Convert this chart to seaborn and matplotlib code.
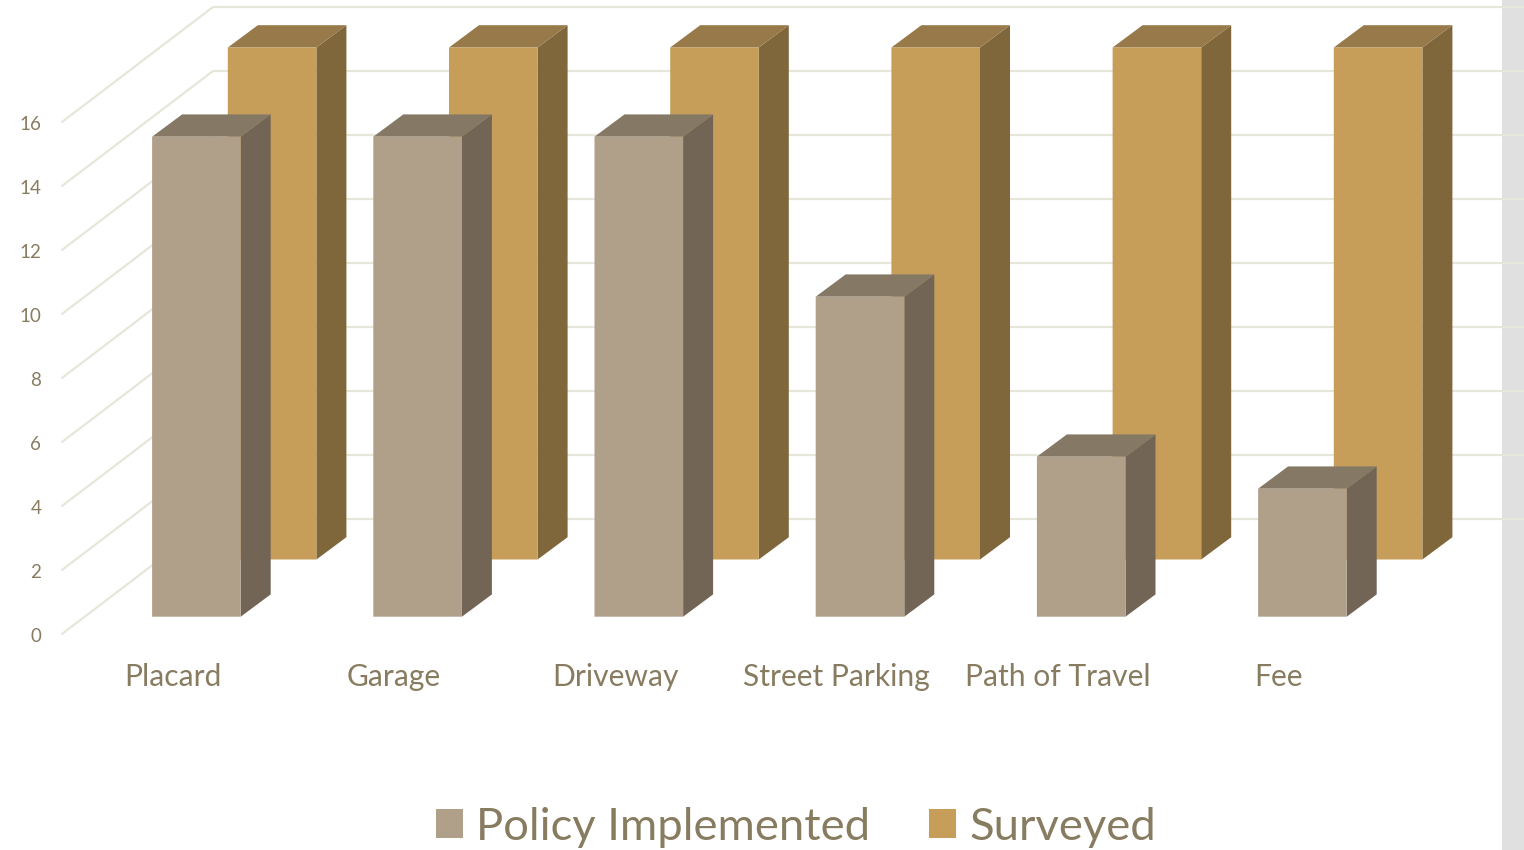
import matplotlib
matplotlib.use("Agg")
import matplotlib.pyplot as plt
from matplotlib.patches import Polygon, Rectangle, Patch
from matplotlib.transforms import Affine2D
import pandas as pd
import seaborn as sns

categories = ["Placard", "Garage", "Driveway", "Street Parking", "Path of Travel", "Fee"]
policy_implemented = [15, 15, 15, 10, 5, 4]
surveyed = [16, 16, 16, 16, 16, 16]
y_ticks = [0, 2, 4, 6, 8, 10, 12, 14, 16]

W, H = 1524, 850
PX_PER_UNIT = 32.0
BASE_Y = 616.7
STEP_X = 221.2
FIRST_X = 196.4
BAR_W = 88.6
TEXT = "#887C60"
GRID = "#E6E6DB"

sns.set_theme(style="white")
plt.rcParams["font.family"] = ["Lato", "DejaVu Sans"]

df = pd.DataFrame({
    "Category": categories * 2,
    "Series": ["Surveyed"] * 6 + ["Policy Implemented"] * 6,
    "Value": surveyed + policy_implemented,
})

fig = plt.figure(figsize=(W / 100, H / 100), dpi=100, facecolor="white")
ax = fig.add_axes([62 / W, (H - BASE_Y) / H, (W - 62) / W, BASE_Y / H])
ax.patch.set_visible(False)

colors = {
    "Policy Implemented": ("#B0A08A", "#726556", "#857966"),
    "Surveyed": ("#C69E5A", "#7F663B", "#97794A"),
}
sns.barplot(data=df, x="Category", y="Value", hue="Series", order=categories,
            hue_order=["Surveyed", "Policy Implemented"], dodge=False,
            palette={k: v[0] for k, v in colors.items()},
            width=BAR_W / STEP_X, saturation=1, legend=False, ax=ax)

px2x = lambda px: (px - FIRST_X) / STEP_X
ax.set_xlim(px2x(62), px2x(W))
ax.set_ylim(0, BASE_Y / PX_PER_UNIT)
ax.set_xlabel("")
ax.set_ylabel("")
sns.despine(ax=ax, left=True, bottom=True, top=True, right=True)

# walls of the 3D box
fig.add_artist(Rectangle((1502 / W, 0), 22 / W, 1, transform=fig.transFigure,
                         facecolor="#E0E0E0", edgecolor="none", zorder=-1))
wall_front = -17.3 / PX_PER_UNIT
wall_back = 97.7 / PX_PER_UNIT
for v in y_ticks:
    ax.plot([px2x(62), px2x(213), px2x(W)],
            [v + wall_front, v + wall_back, v + wall_back],
            color=GRID, lw=1.6, zorder=0.5, clip_on=False, solid_joinstyle="miter")

# extruded bars
DX = 30 / STEP_X
DY = 22.3 / PX_PER_UNIT
layers = [("Surveyed", ax.containers[0], Affine2D().translate(75.7, 57.2), 2),
          ("Policy Implemented", ax.containers[1], Affine2D(), 4)]
for name, container, shift, z in layers:
    front, side, top = colors[name]
    tr = ax.transData + shift
    for bar in container:
        x0, w, h = bar.get_x(), bar.get_width(), bar.get_height()
        x1 = x0 + w
        bar.set_transform(tr)
        bar.set_zorder(z + 1)
        bar.set_linewidth(0)
        bar.set_clip_on(False)
        bar.set_snap(False)
        ax.add_patch(Polygon([(x1, 0), (x1 + DX, DY), (x1 + DX, h + DY), (x1, h)],
                             closed=True, facecolor=side, edgecolor="none",
                             transform=tr, zorder=z, clip_on=False))
        ax.add_patch(Polygon([(x0, h), (x1, h), (x1 + DX, h + DY), (x0 + DX, h + DY)],
                             closed=True, facecolor=top, edgecolor="none",
                             transform=tr, zorder=z, clip_on=False))

# ticks
ax.set_yticks(y_ticks)
ax.set_yticklabels([str(v) for v in y_ticks])
ax.tick_params(axis="y", length=0, pad=15, labelsize=13.5, labelcolor=TEXT)
ax.tick_params(axis="x", length=0, pad=33, labelsize=21.6, labelcolor=TEXT)
for lab in ax.get_yticklabels():
    lab.set_transform(lab.get_transform() + Affine2D().translate(0, -18.3))
for lab in ax.get_xticklabels():
    lab.set_transform(lab.get_transform() + Affine2D().translate(-23.5, 0))

handles = [Patch(facecolor=colors[n][0], edgecolor="none", label=n)
           for n in ["Policy Implemented", "Surveyed"]]
fig.legend(handles=handles, loc="center", bbox_to_anchor=(796 / W, (H - 827) / H),
           ncol=2, frameon=False, fontsize=32.7, labelcolor=TEXT,
           handlelength=0.6, handleheight=0.6, handletextpad=0.3, columnspacing=1.28,
           borderpad=0, borderaxespad=0)

fig.savefig("out.png", dpi=100, facecolor="white")
